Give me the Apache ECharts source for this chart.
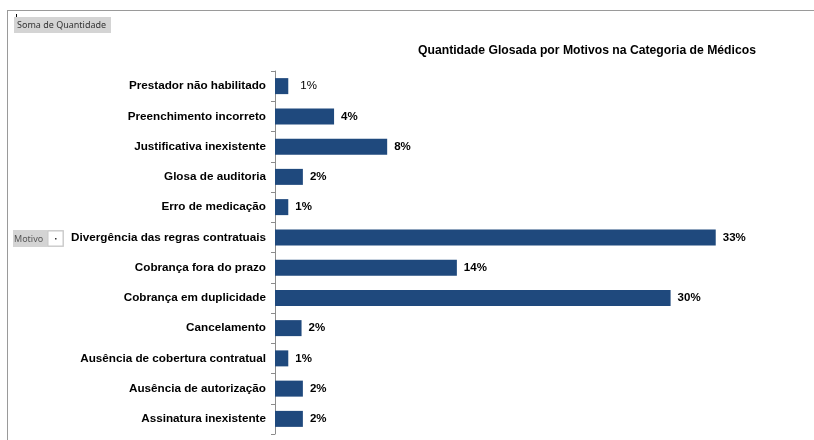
<!DOCTYPE html>
<html>
<head>
<meta charset="utf-8">
<script src="https://cdn.jsdelivr.net/npm/echarts@6/dist/echarts.min.js"></script>
<style>
  html, body { margin: 0; padding: 0; background: #fff; }
  #chart { width: 814px; height: 440px; }
</style>
</head>
<body>
<div id="chart"></div>
<script>
// motivos de glosa (de cima para baixo)
var motivos = [
  "Prestador não habilitado",
  "Preenchimento incorreto",
  "Justificativa inexistente",
  "Glosa de auditoria",
  "Erro de medicação",
  "Divergência das regras contratuais",
  "Cobrança fora do prazo",
  "Cobrança em duplicidade",
  "Cancelamento",
  "Ausência de cobertura contratual",
  "Ausência de autorização",
  "Assinatura inexistente"
];
// percentual da quantidade glosada
var percentuais = [1.0, 4.45, 8.45, 2.1, 1.0, 33.2, 13.7, 29.8, 2.0, 1.0, 2.1, 2.1];

var myChart = echarts.init(document.getElementById("chart"));

var fonte = "'Liberation Sans', Arial, sans-serif";

var dados = percentuais.map(function (v, i) {
  var item = { value: v };
  if (i === 0) {
    // primeiro rótulo aparece sem negrito na planilha
    item.label = { fontWeight: "normal", distance: 12 };
  }
  return item;
});

var option = {
  animation: false,
  title: {
    text: "Quantidade Glosada por Motivos na Categoria de Médicos",
    left: 413,
    top: 40,
    textStyle: { fontFamily: fonte, fontSize: 12.2, fontWeight: "bold", color: "#000" }
  },
  grid: { left: 275, right: 8, top: 71, bottom: 6 },
  xAxis: {
    type: "value",
    min: 0,
    max: 40,
    show: false
  },
  yAxis: {
    type: "category",
    inverse: true,
    data: motivos,
    axisLine: { lineStyle: { color: "#8c8c8c", width: 1 } },
    axisTick: { show: true, length: 4, lineStyle: { color: "#8c8c8c" } },
    axisLabel: {
      margin: 9,
      fontFamily: fonte,
      fontSize: 11.7,
      fontWeight: "bold",
      color: "#000",
      padding: [2, 0, 0, 0]
    },
    splitLine: { show: false }
  },
  series: [
    {
      type: "bar",
      data: dados,
      barWidth: 16,
      itemStyle: { color: "#1f497d" },
      label: {
        show: true,
        position: "right",
        distance: 7,
        fontFamily: fonte,
        fontSize: 11.5,
        fontWeight: "bold",
        color: "#000",
        padding: [2, 0, 0, 0],
        formatter: function (p) { return Math.round(p.value) + "%"; }
      }
    }
  ],
  graphic: [
    // moldura da planilha
    { type: "line", shape: { x1: 8, y1: 10.5, x2: 814, y2: 10.5 }, style: { stroke: "#9a9a9a", lineWidth: 1 } },
    { type: "line", shape: { x1: 7.5, y1: 10, x2: 7.5, y2: 440 }, style: { stroke: "#9a9a9a", lineWidth: 1 } },
    { type: "rect", shape: { x: 16, y: 14, width: 1, height: 3 }, style: { fill: "#000" } },
    // botão "Soma de Quantidade"
    { type: "rect", shape: { x: 14, y: 17, width: 97, height: 16 }, style: { fill: "#d4d4d4" } },
    { type: "text", x: 17, y: 25.5, style: { text: "Soma de Quantidade", fontFamily: "'Noto Sans', sans-serif", fontSize: 9, fill: "#333", verticalAlign: "middle" } },
    // botão "Motivo"
    { type: "rect", shape: { x: 13, y: 230, width: 51, height: 17 }, style: { fill: "#d4d4d4" } },
    { type: "rect", shape: { x: 48, y: 231, width: 15, height: 15 }, style: { fill: "#fff", stroke: "#c8c8c8", lineWidth: 1 } },
    { type: "rect", shape: { x: 55, y: 238, width: 1.5, height: 1.5 }, style: { fill: "#333" } },
    { type: "text", x: 14, y: 239, style: { text: "Motivo", fontFamily: "'Noto Sans', sans-serif", fontSize: 9, fill: "#555", verticalAlign: "middle" } }
  ]
};

myChart.setOption(option);
</script>
</body>
</html>
